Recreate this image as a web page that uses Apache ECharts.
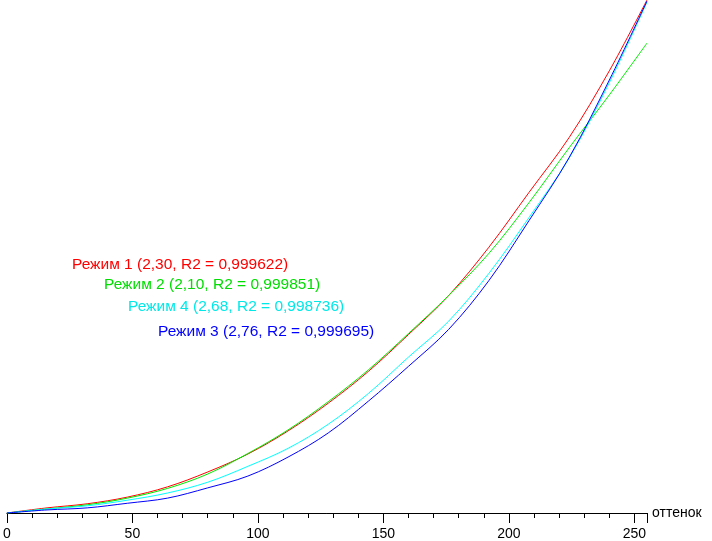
<!DOCTYPE html>
<html>
<head>
<meta charset="utf-8">
<script src="https://cdn.jsdelivr.net/npm/echarts@6/dist/echarts.min.js"></script>
<style>
html,body{margin:0;padding:0;background:#fff;}
#chart{width:712px;height:541px;}
</style>
</head>
<body>
<div id="chart"></div>
<script>
// x values (оттенок)
const levels = [0, 16, 32, 48, 64, 80, 96, 112, 128, 144, 160, 176, 192, 208, 224, 240, 255];
// relative brightness
const mode1 = [0, 0.010, 0.018, 0.031, 0.051, 0.080, 0.115, 0.160, 0.214, 0.276, 0.348, 0.424, 0.518, 0.625, 0.732, 0.862, 1.0];
const mode2 = [0, 0.008, 0.016, 0.029, 0.048, 0.076, 0.116, 0.162, 0.217, 0.279, 0.350, 0.424, 0.506, 0.605, 0.712, 0.815, 0.916];
const mode4 = [0, 0.008, 0.014, 0.025, 0.039, 0.060, 0.091, 0.126, 0.173, 0.233, 0.304, 0.374, 0.467, 0.576, 0.692, 0.839, 0.996];
const mode3 = [0, 0.006, 0.010, 0.019, 0.029, 0.049, 0.072, 0.109, 0.156, 0.218, 0.286, 0.358, 0.453, 0.570, 0.693, 0.844, 0.998];
const labels = [
  'Режим 1 (2,30, R2 = 0,999622)',
  'Режим 2 (2,10, R2 = 0,999851)',
  'Режим 4 (2,68, R2 = 0,998736)',
  'Режим 3 (2,76, R2 = 0,999695)'
];
const colors = ['#ff0000', '#00ee00', '#00ffff', '#0000ff'];
const textColors = ['#ff0000', '#00dd00', '#00e8e8', '#0000ff'];
const xName = 'оттенок';

const pairs = arr => levels.map((x, i) => [x, arr[i]]);
const seriesData = [mode1, mode2, mode4, mode3];

const chart = echarts.init(document.getElementById('chart'), null, {renderer: 'canvas'});
const font = '"Liberation Sans", Arial, sans-serif';
const labelPos = [[72, 266], [104, 286], [128, 308], [158, 333]];

chart.setOption({
  animation: false,
  backgroundColor: '#ffffff',
  grid: {left: 4, right: 65, top: 0, bottom: 27, containLabel: false},
  xAxis: {
    type: 'value', min: 0, max: 255, interval: 50,
    name: xName, nameLocation: 'end', nameGap: 5,
    nameTextStyle: {color: '#000', fontSize: 14, fontFamily: font, verticalAlign: 'middle'},
    axisLine: {lineStyle: {color: '#000', width: 1}},
    axisTick: {show: true, length: 10, lineStyle: {color: '#000'}},
    minorTick: {show: true, splitNumber: 5, length: 5, lineStyle: {color: '#000'}},
    axisLabel: {color: '#000', fontSize: 14, fontFamily: font, margin: 14, showMaxLabel: false},
    splitLine: {show: false}
  },
  yAxis: {
    type: 'value', min: 0, max: 1, show: false, splitLine: {show: false}
  },
  series: seriesData.map((d, i) => ({
    type: 'line', data: pairs(d), showSymbol: false, smooth: 0.35,
    lineStyle: {color: colors[i], width: 1}, itemStyle: {color: colors[i]}
  })),
  graphic: labels.map((t, i) => ({
    type: 'text', left: labelPos[i][0], top: labelPos[i][1] - 9,
    style: {text: t, fill: textColors[i], font: '15.5px ' + font}
  }))
});
</script>
</body>
</html>
